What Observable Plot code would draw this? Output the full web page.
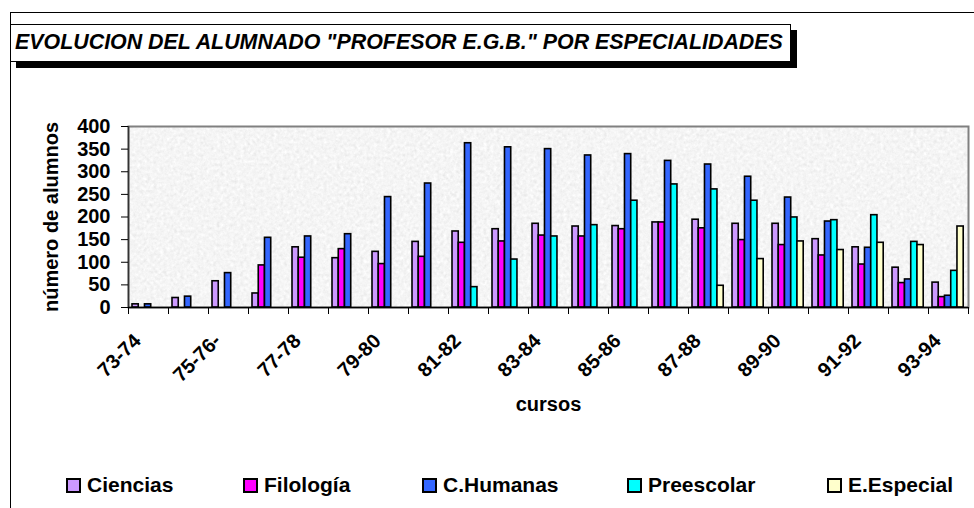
<!DOCTYPE html>
<html>
<head>
<meta charset="utf-8">
<script src="https://cdn.jsdelivr.net/npm/d3@7"></script>
<script src="https://cdn.jsdelivr.net/npm/@observablehq/plot@0.6"></script>
<style>
  html, body { margin: 0; padding: 0; background: #fff; }
  #wrap { position: relative; width: 974px; height: 508px; overflow: hidden; background: #fff;
          font-family: "Liberation Sans", Arial, sans-serif; }
  #outer { position: absolute; left: 10px; top: 12px; width: 2000px; height: 2000px;
           border-left: 1.5px solid #000; border-top: 1.5px solid #000; }
  #title { position: absolute; left: 10px; top: 24px; width: 781px; height: 38px; box-sizing: border-box;
           border: 1px solid #000; background: #fff; box-shadow: 6px 6px 0 #000;
           font-weight: bold; font-style: italic; font-size: 21.4px; line-height: 35px; padding-left: 4px;
           white-space: nowrap; color: #000; }
  #chart { position: absolute; left: 0; top: 90px; }
  .leg { position: absolute; top: 476px; font-weight: bold; font-size: 21px; line-height: 17px; white-space: nowrap; color: #000; }
  .sw { display: inline-block; width: 11px; height: 11px; border: 2px solid #000; margin-right: 6px; vertical-align: bottom; }
</style>
</head>
<body>
<div id="wrap">
  <div id="outer"></div>
  <div id="title"></div>
  <div id="chart"></div>
  <div id="legend"></div>
</div>
<script>
const chartTitle = 'EVOLUCION DEL ALUMNADO "PROFESOR E.G.B." POR ESPECIALIDADES';
const xTitle = "cursos";
const yTitle = "número de alumnos";

const categories = ["73-74","74-75","75-76-","76-77","77-78","78-79","79-80","80-81","81-82","82-83",
                    "83-84","84-85","85-86","86-87","87-88","88-89","89-90","90-91","91-92","92-93","93-94"];
const seriesNames = ["Ciencias","Filología","C.Humanas","Preescolar","E.Especial"];
const seriesColors = ["#CC99FF","#FF00FF","#3366FF","#00FFFF","#FFFFCC"];

const ciencias   = [7,21,58,31,133,109,123,145,168,173,185,179,180,188,194,185,185,151,133,88,55];
const filologia  = [null,null,null,93,110,129,96,112,143,146,159,157,173,188,175,149,138,115,95,54,23];
const humanas    = [7,24,76,154,157,162,244,274,363,354,350,336,339,324,316,289,243,190,132,62,26];
const preescolar = [null,null,null,null,null,null,null,null,45,106,157,182,236,272,261,236,199,193,204,145,81];
const especial   = [null,null,null,null,null,null,null,null,null,null,null,null,null,null,48,107,146,127,143,138,179];

const yTicks = [0,50,100,150,200,250,300,350,400];
const legendLeft = [66, 243, 422, 627, 827];

const seriesValues = [ciencias, filologia, humanas, preescolar, especial];
const rows = [];
seriesValues.forEach((vals, s) => vals.forEach((v, i) => {
  if (v != null) rows.push({i, s, serie: seriesNames[s], value: v});
}));

// layout within a category band (fractions of one category)
const groupOffset = 0.1, barW = 0.156;
const labelIdx = categories.map((c, i) => i).filter(i => i % 2 === 0);

document.getElementById("title").textContent = chartTitle;

const font = '"Liberation Sans", Arial, sans-serif';
const chart = Plot.plot({
  width: 974,
  height: 340,
  marginLeft: 128,
  marginRight: 6,
  marginTop: 36,
  marginBottom: 123,
  style: {fontFamily: font, fontSize: "20px", fontWeight: "bold", background: "transparent", color: "#000"},
  x: {domain: [0, categories.length], axis: null},
  y: {domain: [0, 400], axis: null},
  color: {domain: seriesNames, range: seriesColors},
  marks: [
    Plot.frame({fill: "#e6e6e6", stroke: "#808080", strokeWidth: 2}),
    Plot.rect(rows, {
      x1: d => d.i + groupOffset + d.s * barW,
      x2: d => d.i + groupOffset + (d.s + 1) * barW,
      y1: 0, y2: "value",
      fill: "serie", stroke: "#000", strokeWidth: 1.6
    }),
    Plot.ruleX([0], {stroke: "#333", strokeWidth: 1.5}),
    Plot.ruleY([0], {stroke: "#000", strokeWidth: 1.5}),
    Plot.axisY({ticks: yTicks, tickSize: 7, tickPadding: 11, fontSize: 20, fontWeight: "bold", stroke: "#000", label: null}),
    Plot.axisX({ticks: d3.range(categories.length + 1), tickSize: 7, tickFormat: () => "", stroke: "#000", label: null}),
    Plot.axisX({ticks: labelIdx.map(i => i + 0.5), tickFormat: t => categories[Math.round(t - 0.5)],
                tickSize: 0, tickPadding: 30, tickRotate: -45, dx: -11, fontSize: 20, fontWeight: "bold", label: null}),
    Plot.text([yTitle], {frameAnchor: "left", textAnchor: "middle", rotate: -90, dx: -77, fontSize: 20, fontWeight: "bold"}),
    Plot.text([xTitle], {frameAnchor: "bottom", dy: 103, fontSize: 20, fontWeight: "bold"})
  ]
});

// granite-like texture for the plot background
const ns = "http://www.w3.org/2000/svg";
const defs = document.createElementNS(ns, "defs");
defs.innerHTML = `<filter id="granite" x="0" y="0" width="1" height="1" filterUnits="objectBoundingBox">
  <feTurbulence type="fractalNoise" baseFrequency="0.3" numOctaves="3" seed="7" result="n"/>
  <feColorMatrix type="matrix" values="0.14 0.14 0.14 0 0.70  0.14 0.14 0.14 0 0.70  0.14 0.14 0.14 0 0.70  0 0 0 0 1"/>
</filter>`;
chart.insertBefore(defs, chart.firstChild);
const frameEl = chart.querySelector('[aria-label="frame"]');
if (frameEl) {
  const r = frameEl.tagName.toLowerCase() === "rect" ? frameEl : frameEl.querySelector("rect");
  if (r && r.parentNode) {
    const tex = r.cloneNode();
    tex.removeAttribute("aria-label");
    tex.setAttribute("filter", "url(#granite)");
    tex.setAttribute("stroke", "none");
    r.parentNode.insertBefore(tex, r);
    r.setAttribute("fill", "none");
  }
}
document.getElementById("chart").appendChild(chart);

// legend
const legend = document.getElementById("legend");
seriesNames.forEach((name, k) => {
  const item = document.createElement("div");
  item.className = "leg";
  item.style.left = legendLeft[k] + "px";
  const sw = document.createElement("span");
  sw.className = "sw";
  sw.style.background = seriesColors[k];
  item.appendChild(sw);
  item.appendChild(document.createTextNode(name));
  legend.appendChild(item);
});
</script>
</body>
</html>
